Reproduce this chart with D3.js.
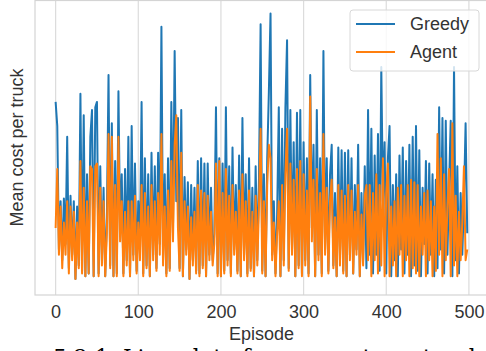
<!DOCTYPE html>
<html>
<head>
<meta charset="utf-8">
<script src="https://cdn.jsdelivr.net/npm/d3@7"></script>
<style>
  body { margin: 0; background: #fff; }
  svg { display: block; font-family: "Liberation Sans", Arial, sans-serif; }
  .tick text { fill: #333; font-size: 18px; }
</style>
</head>
<body>
<div id="chart"></div>
<script>
// episodes 0, 2, 4 ... 498 (arbitrary cost units)
const greedy = [
  67, 58, 12, 30, 8, 31, 14, 54, 5, 32,
  10, 30, 1, 28, 6, 70, 4, 62, 2, 40,
  3, 54, 64, 2, 65, 67, 3, 43, 8, 35,
  2, 24, 77, 6, 59, 2, 45, 3, 71, 20,
  40, 3, 42, 8, 54, 2, 58, 10, 44, 4,
  30, 12, 67, 3, 46, 6, 40, 2, 48, 10,
  43, 5, 48, 14, 95, 8, 40, 3, 46, 5,
  67, 20, 86, 30, 61, 5, 64, 2, 39, 12,
  37, 1, 36, 8, 35, 4, 45, 3, 46, 6,
  44, 2, 44, 10, 35, 8, 18, 65, 3, 46,
  2, 44, 4, 65, 8, 43, 3, 50, 12, 36,
  4, 47, 2, 61, 10, 40, 3, 46, 5, 35,
  2, 43, 8, 38, 96, 4, 40, 2, 46, 71,
  100, 10, 30, 3, 25, 65, 2, 57, 8, 65,
  90, 5, 64, 12, 52, 2, 63, 6, 64, 3,
  52, 8, 46, 3, 77, 20, 51, 2, 64, 10,
  46, 3, 86, 12, 46, 4, 40, 51, 6, 33,
  2, 50, 8, 49, 4, 48, 2, 49, 10, 46,
  3, 36, 12, 51, 2, 33, 8, 43, 5, 64,
  10, 57, 3, 47, 10, 55, 4, 80, 30, 52,
  3, 46, 58, 2, 36, 8, 40, 2, 47, 12,
  50, 3, 45, 10, 51, 2, 54, 6, 58, 4,
  49, 2, 35, 14, 45, 3, 44, 10, 40, 2,
  38, 5, 65, 12, 61, 3, 60, 10, 36, 60,
  2, 80, 8, 43, 3, 33, 10, 30, 59, 18
];
const agent = [
  20, 42, 10, 28, 5, 22, 10, 30, 3, 28,
  8, 26, 1, 22, 5, 45, 3, 35, 2, 30,
  3, 43, 42, 2, 43, 44, 2, 35, 6, 30,
  2, 18, 55, 5, 54, 2, 36, 2, 54, 15,
  30, 2, 26, 6, 30, 2, 30, 8, 32, 3,
  22, 8, 36, 2, 33, 5, 28, 2, 36, 8,
  30, 4, 33, 10, 55, 6, 28, 2, 34, 4,
  45, 15, 51, 62, 20, 4, 48, 2, 30, 10,
  28, 1, 24, 6, 26, 3, 36, 2, 34, 5,
  33, 2, 32, 8, 26, 6, 14, 44, 2, 45,
  2, 33, 3, 42, 6, 32, 2, 36, 10, 26,
  3, 34, 2, 40, 8, 30, 2, 34, 4, 26,
  2, 32, 6, 28, 57, 3, 30, 2, 36, 51,
  46, 8, 22, 2, 18, 30, 2, 36, 6, 40,
  57, 4, 44, 10, 38, 2, 42, 5, 45, 2,
  40, 6, 34, 2, 69, 15, 38, 2, 42, 8,
  33, 2, 55, 10, 35, 3, 30, 38, 5, 24,
  2, 36, 6, 34, 3, 32, 2, 36, 8, 34,
  3, 26, 10, 36, 2, 25, 6, 32, 36, 8,
  36, 2, 33, 8, 40, 3, 36, 6, 46, 2,
  33, 44, 2, 28, 6, 30, 2, 35, 10, 36,
  2, 32, 8, 36, 2, 38, 5, 37, 3, 36,
  2, 28, 10, 33, 2, 34, 8, 30, 2, 28,
  4, 55, 10, 46, 2, 40, 8, 28, 42, 2,
  59, 6, 32, 2, 26, 8, 22, 43, 8, 12
];
const xTicks = [0, 100, 200, 300, 400, 500];
const seriesNames = ['Greedy', 'Agent'];
const colors = ['#1f77b4', '#ff7f0e'];

const W = 486, H = 351;
const plot = {left: 35, right: 488.7, top: 0, bottom: 295};

const svg = d3.select('#chart').append('svg')
  .attr('width', W)
  .attr('height', H);

const x = d3.scaleLinear().domain([-24.95, 523.95]).range([plot.left, plot.right]);
const y = d3.scaleLinear().domain([-5, 105]).range([plot.bottom, plot.top]);

// grid
svg.append('g')
  .selectAll('line')
  .data(xTicks)
  .join('line')
    .attr('x1', d => x(d)).attr('x2', d => x(d))
    .attr('y1', plot.top).attr('y2', plot.bottom)
    .attr('stroke', '#dcdcdc')
    .attr('stroke-width', 1.2);

// frame
svg.append('rect')
  .attr('x', plot.left).attr('y', plot.top + 0.5)
  .attr('width', plot.right - plot.left).attr('height', plot.bottom - plot.top - 0.5)
  .attr('fill', 'none')
  .attr('stroke', '#d4d4d4')
  .attr('stroke-width', 1.2);

const line = d3.line()
  .x((d, i) => x(i * 2))
  .y(d => y(d));

[greedy, agent].forEach((s, k) => {
  svg.append('path')
    .datum(s)
    .attr('fill', 'none')
    .attr('stroke', colors[k])
    .attr('stroke-width', 2)
    .attr('stroke-linejoin', 'round')
    .attr('d', line);
});

// x axis
const xAxis = svg.append('g')
  .attr('transform', `translate(0,${plot.bottom})`)
  .call(d3.axisBottom(x).tickValues(xTicks).tickSize(0).tickPadding(10));
xAxis.select('.domain').remove();
xAxis.selectAll('text').attr('font-family', '"Liberation Sans", Arial, sans-serif');

svg.append('text')
  .attr('x', (56 + 469) / 2 - 1)
  .attr('y', 340)
  .attr('text-anchor', 'middle')
  .attr('fill', '#333')
  .style('font-size', '18px')
  .text('Episode');

svg.append('text')
  .attr('transform', `translate(23,${(plot.top + plot.bottom) / 2}) rotate(-90)`)
  .attr('text-anchor', 'middle')
  .attr('fill', '#333')
  .style('font-size', '18px')
  .text('Mean cost per truck');

// legend
const legend = svg.append('g');
legend.append('rect')
  .attr('x', 350).attr('y', 10)
  .attr('width', 129).attr('height', 61)
  .attr('rx', 3)
  .attr('fill', '#fff').attr('fill-opacity', 0.8)
  .attr('stroke', '#d8d8d8');
seriesNames.forEach((n, i) => {
  const ly = 24 + i * 28;
  legend.append('line')
    .attr('x1', 356).attr('x2', 395)
    .attr('y1', ly).attr('y2', ly)
    .attr('stroke', colors[i]).attr('stroke-width', 2);
  legend.append('text')
    .attr('x', 410).attr('y', ly + 6)
    .attr('fill', '#333')
    .style('font-size', '18px')
    .text(n);
});

// caption of the page below the figure (mostly cropped)
svg.append('text')
  .attr('x', 53).attr('y', 365)
  .attr('font-family', '"DejaVu Serif", "Liberation Serif", serif')
  .attr('fill', '#000')
  .style('font-size', '22px')
  .text('5.2.1. Line plot of mean cost per truck and');
</script>
</body>
</html>
